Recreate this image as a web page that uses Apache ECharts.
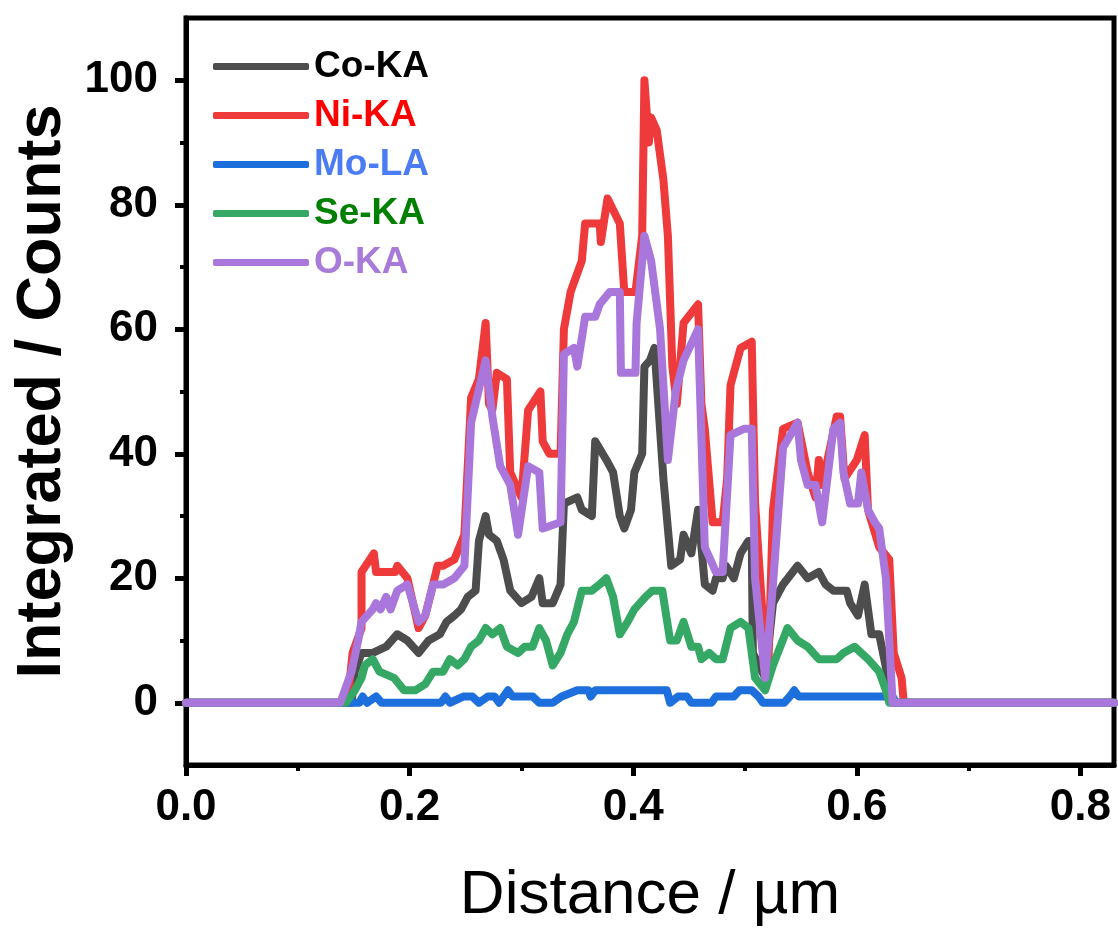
<!DOCTYPE html>
<html><head><meta charset="utf-8">
<script src="https://cdn.jsdelivr.net/npm/echarts@6/dist/echarts.min.js"></script>
<style>html,body{margin:0;padding:0;background:#fff}#c{width:1118px;height:932px}</style>
</head><body><div id="c"></div>
<script>
const seriesNames = ['Co-KA', 'Ni-KA', 'Mo-LA', 'Se-KA', 'O-KA'];
const lineColors = ['#4d4d4d', '#ee3a3a', '#1c6fdc', '#34a864', '#a977dc'];
const legendTextColors = ['#000000', '#ff0000', '#4c7cf3', '#008000', '#a87ad9'];

const coKA = [[0,0],[0.148,0],[0.151,5],[0.157,8],[0.167,8],[0.179,9],[0.189,11],[0.198,10],[0.208,8],[0.217,10],[0.227,11],[0.233,13],[0.24,14],[0.246,15],[0.252,17],[0.259,18],[0.262,26],[0.268,30],[0.271,27],[0.278,26],[0.284,23],[0.29,18],[0.3,16],[0.309,17],[0.316,20],[0.319,16],[0.328,16],[0.335,19],[0.338,32],[0.35,33],[0.354,31],[0.363,30],[0.366,42],[0.376,39],[0.382,37],[0.388,30],[0.392,28],[0.398,31],[0.401,37],[0.408,40],[0.41,54],[0.415,55],[0.419,57],[0.427,36],[0.434,22],[0.442,23],[0.445,27],[0.452,24],[0.458,31],[0.464,19],[0.471,18],[0.474,20],[0.48,20],[0.483,22],[0.49,20],[0.496,24],[0.503,26],[0.506,26],[0.507,8],[0.518,4],[0.525,16],[0.534,19],[0.547,22],[0.556,20],[0.566,21],[0.572,19],[0.579,18],[0.591,18],[0.594,16],[0.601,14],[0.607,19],[0.613,11],[0.62,11],[0.629,3],[0.632,0],[0.83,0]];

const niKA = [[0,0],[0.1445,0],[0.149,8],[0.157,12],[0.157,21],[0.168,24],[0.17,21],[0.187,21],[0.189,22],[0.198,20],[0.208,12],[0.214,14],[0.221,19],[0.225,22],[0.23,22],[0.24,23],[0.249,27],[0.255,49],[0.262,52],[0.268,61],[0.271,48],[0.274,47],[0.278,53],[0.287,52],[0.29,37],[0.3,33],[0.306,47],[0.317,50],[0.319,42],[0.325,40],[0.335,40],[0.338,60],[0.344,66],[0.354,71],[0.357,77],[0.37,77],[0.371,74],[0.377,81],[0.388,77],[0.392,66],[0.402,66],[0.408,75],[0.41,100],[0.414,90],[0.416,94],[0.421,92],[0.427,84],[0.431,75],[0.435,54],[0.439,48],[0.445,61],[0.458,64],[0.461,48],[0.464,44],[0.471,29],[0.48,29],[0.484,36],[0.487,51],[0.496,57],[0.506,58],[0.509,32],[0.518,8],[0.521,7],[0.525,31],[0.534,44],[0.547,45],[0.556,37],[0.563,33],[0.566,39],[0.569,35],[0.582,46],[0.585,46],[0.589,36],[0.6,39],[0.607,43],[0.61,31],[0.62,25],[0.629,23],[0.633,8],[0.64,4],[0.642,0],[0.83,0]];

const moLA = [[0,0],[0.148,0],[0.155,0],[0.158,1],[0.162,0],[0.17,1],[0.175,0],[0.228,0],[0.232,1],[0.236,0],[0.248,1],[0.256,1],[0.262,0],[0.27,1],[0.276,1],[0.28,0],[0.288,2],[0.292,1],[0.31,1],[0.316,0],[0.328,0],[0.336,1],[0.35,2],[0.36,2],[0.362,1],[0.366,2],[0.43,2],[0.433,0],[0.44,1],[0.448,1],[0.452,0],[0.47,0],[0.474,1],[0.49,1],[0.495,2],[0.506,2],[0.512,1],[0.516,0],[0.535,0],[0.54,1],[0.544,2],[0.548,1],[0.632,1],[0.635,0],[0.83,0]];

const seKA = [[0,0],[0.143,0],[0.151,2],[0.157,4],[0.16,6],[0.167,7],[0.173,5],[0.186,4],[0.195,2],[0.205,2],[0.214,3],[0.221,5],[0.23,5],[0.236,7],[0.243,6],[0.249,7],[0.255,9],[0.262,10],[0.268,12],[0.274,11],[0.281,12],[0.287,9],[0.297,8],[0.303,9],[0.31,9],[0.316,12],[0.322,10],[0.328,6],[0.335,8],[0.341,11],[0.347,13],[0.354,18],[0.363,18],[0.37,19],[0.376,20],[0.382,17],[0.388,11],[0.395,13],[0.401,15],[0.411,17],[0.417,18],[0.426,18],[0.433,10],[0.439,10],[0.445,13],[0.452,9],[0.458,9],[0.461,7],[0.468,8],[0.474,7],[0.48,7],[0.487,12],[0.496,13],[0.503,12],[0.509,4],[0.518,2],[0.525,6],[0.538,12],[0.547,10],[0.556,9],[0.566,7],[0.575,7],[0.582,7],[0.588,8],[0.598,9],[0.604,8],[0.61,7],[0.62,5],[0.626,2],[0.629,0],[0.83,0]];

const oKA = [[0,0],[0.138,0],[0.148,5],[0.154,10],[0.157,13],[0.167,15],[0.17,16],[0.174,15],[0.179,17],[0.183,15],[0.189,18],[0.198,19],[0.208,13],[0.214,14],[0.221,19],[0.23,19],[0.24,20],[0.249,22],[0.255,45],[0.268,55],[0.274,46],[0.281,38],[0.29,35],[0.297,27],[0.306,38],[0.316,37],[0.319,28],[0.335,29],[0.338,56],[0.347,57],[0.35,54],[0.357,62],[0.366,62],[0.37,64],[0.379,66],[0.388,66],[0.389,53],[0.402,53],[0.403,61],[0.41,75],[0.416,71],[0.424,60],[0.431,39],[0.438,50],[0.445,55],[0.458,60],[0.464,25],[0.474,21],[0.48,21],[0.487,43],[0.499,44],[0.506,44],[0.509,20],[0.518,4],[0.525,19],[0.534,41],[0.547,45],[0.55,39],[0.556,35],[0.563,35],[0.569,29],[0.579,44],[0.585,45],[0.588,37],[0.594,32],[0.601,32],[0.604,37],[0.61,31],[0.616,29],[0.62,28],[0.626,20],[0.632,0],[0.83,0]];

const seriesData = [coKA, niKA, moLA, seKA, oKA];
const xMajorTicks = [0, 0.2, 0.4, 0.6, 0.8];
const xMinorTicks = [0.1, 0.3, 0.5, 0.7];
const yMajorTicks = [0, 20, 40, 60, 80, 100];
const yMinorTicks = [10, 30, 50, 70, 90];

const FONT = 'Liberation Sans, Arial, sans-serif';
const chart = echarts.init(document.getElementById('c'));

chart.setOption({
  backgroundColor: '#ffffff',
  animation: false,
  grid: {left: 186, top: 18, right: 4, bottom: 167, show: true, borderColor: '#000', borderWidth: 5, containLabel: false},
  legend: {
    orient: 'vertical', left: 208, top: 43, itemWidth: 96, itemHeight: 7, itemGap: 12,
    textStyle: {fontFamily: FONT, fontWeight: 'bold', fontSize: 37},
    data: seriesNames.map((n, i) => ({name: n, icon: 'roundRect', itemStyle: {color: lineColors[i]}, textStyle: {color: legendTextColors[i]}}))
  },
  xAxis: [
    {type: 'value', min: 0, max: 0.83, position: 'bottom', splitLine: {show: false},
      name: 'Distance / µm', nameLocation: 'middle', nameGap: 100,
      nameTextStyle: {fontFamily: FONT, fontSize: 62, color: '#000'},
      axisLine: {show: true, onZero: false, lineStyle: {color: '#000', width: 5}},
      axisTick: {show: true, inside: false, length: 11, customValues: xMajorTicks, lineStyle: {color: '#000', width: 5}},
      axisLabel: {customValues: xMajorTicks, margin: 21, formatter: v => v.toFixed(1), fontFamily: FONT, fontWeight: 'bold', fontSize: 44, color: '#000'}
    },
    {type: 'value', min: 0, max: 0.83, position: 'bottom', splitLine: {show: false},
      axisLine: {show: false, onZero: false},
      axisTick: {show: true, inside: false, length: 6, customValues: xMinorTicks, lineStyle: {color: '#000', width: 4}},
      axisLabel: {show: false}
    }
  ],
  yAxis: [
    {type: 'value', min: -10, max: 110, position: 'left', splitLine: {show: false},
      name: 'Integrated / Counts', nameLocation: 'middle', nameGap: 108,
      nameTextStyle: {fontFamily: FONT, fontSize: 63, fontWeight: 'bold', color: '#000'},
      axisLine: {show: true, onZero: false, lineStyle: {color: '#000', width: 5}},
      axisTick: {show: true, inside: false, length: 11, customValues: yMajorTicks, lineStyle: {color: '#000', width: 5}},
      axisLabel: {customValues: yMajorTicks, margin: 28, fontFamily: FONT, fontWeight: 'bold', fontSize: 44, color: '#000'}
    },
    {type: 'value', min: -10, max: 110, position: 'left', splitLine: {show: false},
      axisLine: {show: false, onZero: false},
      axisTick: {show: true, inside: false, length: 6, customValues: yMinorTicks, lineStyle: {color: '#000', width: 4}},
      axisLabel: {show: false}
    }
  ],
  color: lineColors,
  series: seriesNames.map((n, i) => ({
    name: n, type: 'line',
    data: seriesData[i], symbol: 'none',
    lineStyle: {width: 8, color: lineColors[i], cap: 'round', join: 'round'}
  }))
});
</script></body></html>
